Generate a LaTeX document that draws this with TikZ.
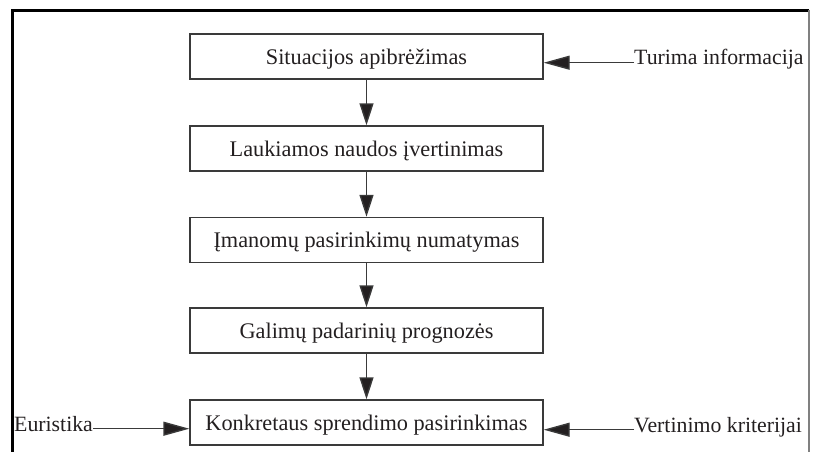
\documentclass[tikz,border=0pt]{standalone}
\usepackage{fontspec}
\setmainfont{Liberation Serif}
\usetikzlibrary{arrows.meta}
\definecolor{ink}{HTML}{231F20}
\definecolor{edge}{HTML}{3A3A3A}
\begin{document}
\begin{tikzpicture}[x=1pt,y=-1pt,
  stepbox/.style={draw=edge, line width=1.4pt, minimum width=353pt,
    minimum height=45pt, inner sep=0pt, text height=15pt, text depth=0pt,
    text=ink, font=\fontsize{22.3}{26}\selectfont},
  sidetext/.style={inner sep=0pt, text=ink, font=\fontsize{21.8}{26}\selectfont},
  flow/.style={draw=edge, line width=1.4pt,
    -{Triangle[length=22pt,width=14pt,fill=ink]}},
  sideflow/.style={draw=edge, line width=1.4pt,
    -{Triangle[length=26pt,width=14pt,fill=ink]}},
  frame/.style={draw=black, line width=2.2pt}]
\useasboundingbox (0,0) rectangle (814,452);

% outer frame
\draw[frame] (12.5,452) -- (12.5,10.5) -- (809,10.5);
\draw[draw=gray, line width=1.2pt] (809,10.5) -- (809,452);

% main chain of steps
\node[stepbox] (s1) at (366.5,56.5) {Situacijos apibrėžimas};
\node[stepbox] (s2) at (366.5,148.5) {Laukiamos naudos įvertinimas};
\node[stepbox] (s3) at (366.5,240) {Įmanomų pasirinkimų numatymas};
\node[stepbox] (s4) at (366.5,330.5) {Galimų padarinių prognozės};
\node[stepbox] (s5) at (366.5,422.5) {Konkretaus sprendimo pasirinkimas};

\draw[flow] (s1.south) -- (s2.north);
\draw[flow] (s2.south) -- (s3.north);
\draw[flow] (s3.south) -- (s4.north);
\draw[flow] (s4.south) -- (s5.north);

% inputs
\node[sidetext, anchor=base west] (info) at (634,65) {Turima informacija};
\node[sidetext, anchor=base west] (heur) at (14,431) {Euristika};
\node[sidetext, anchor=base west] (crit) at (634,432) {Vertinimo kriterijai};

\draw[sideflow] (info.mid west) -- (s1.east |- info.mid west);
\draw[sideflow] (heur.mid east) -- (s5.west |- heur.mid east);
\draw[sideflow] (crit.mid west) -- (s5.east |- crit.mid west);
\end{tikzpicture}
\end{document}
